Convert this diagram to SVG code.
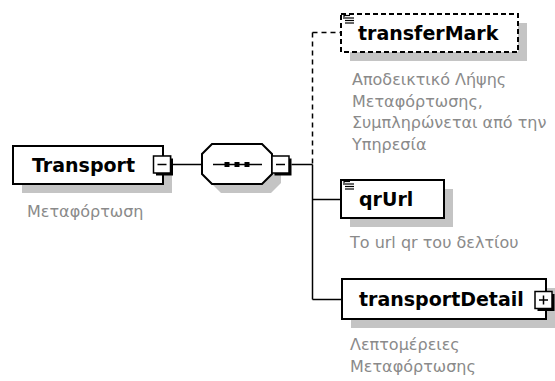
<svg xmlns="http://www.w3.org/2000/svg" width="555" height="381" viewBox="0 0 555 381">
<style>
.box{fill:#fff;stroke:#000;stroke-width:2}
.dbox{fill:#fff;stroke:#000;stroke-width:2;stroke-dasharray:5 3}
.shadow{fill:#c4c4c4}
.name{font-family:"DejaVu Sans",sans-serif;font-weight:bold;font-size:19px;fill:#000}
.desc{font-family:"DejaVu Sans",sans-serif;font-size:16px;fill:#8a8a8a}
.ln{stroke:#000;stroke-width:1.5;fill:none}
.dln{stroke:#000;stroke-width:1.5;fill:none;stroke-dasharray:5 4}
.btn{fill:#fff;stroke:#000;stroke-width:1.5}
.bsh{fill:#000}
.icon{stroke:#000;stroke-width:1.2}
</style>
<rect width="555" height="381" fill="#fff"/>
<g id="connectors">
<line class="ln" x1="173" y1="164.5" x2="202" y2="164.5"/>
<line class="ln" x1="291.5" y1="164.5" x2="312.5" y2="164.5"/>
<line class="dln" x1="312.5" y1="32.5" x2="312.5" y2="164.5"/>
<line class="ln" x1="312.5" y1="164.5" x2="312.5" y2="299.5"/>
<line class="dln" x1="312.5" y1="32.5" x2="341" y2="32.5"/>
<line class="ln" x1="312.5" y1="199.5" x2="341" y2="199.5"/>
<line class="ln" x1="312.5" y1="299.5" x2="342" y2="299.5"/>
</g>
<g id="Transport">
<rect class="shadow" x="22" y="155" width="150" height="38"/>
<rect class="box" x="13" y="146" width="150" height="38"/>
<text class="name" x="32" y="171.5">Transport</text>
<rect class="bsh" x="156" y="158.5" width="17" height="17"/>
<rect class="btn" x="153.5" y="156" width="17" height="17"/>
<line class="ln" x1="157.5" y1="164.5" x2="166.5" y2="164.5"/>
<text class="desc" x="27" y="217">Μεταφόρτωση</text>
</g>
<g id="sequence">
<polygon class="shadow" points="221,153 271,153 281,163 281,183 271,193 221,193 211,183 211,163"/>
<polygon class="box" points="212,144 262,144 272,154 272,174 262,184 212,184 202,174 202,154"/>
<line class="ln" x1="213" y1="164.5" x2="262" y2="164.5"/>
<rect x="224.5" y="162" width="5" height="5" fill="#000"/>
<rect x="234.5" y="162" width="5" height="5" fill="#000"/>
<rect x="244.5" y="162" width="5" height="5" fill="#000"/>
<rect class="bsh" x="274.5" y="158.5" width="17" height="17"/>
<rect class="btn" x="272" y="156" width="17" height="17"/>
<line class="ln" x1="276" y1="164.5" x2="285" y2="164.5"/>
</g>
<g id="transferMark">
<rect class="shadow" x="350" y="23" width="177" height="38"/>
<rect class="dbox" x="341" y="14" width="177" height="38"/>
<line class="icon" x1="344" y1="14" x2="344" y2="19"/>
<line class="icon" x1="344" y1="15.5" x2="350" y2="15.5"/>
<line class="icon" x1="345" y1="18" x2="354" y2="18"/>
<line class="icon" x1="345" y1="20.5" x2="354" y2="20.5"/>
<line class="icon" x1="345" y1="23" x2="354" y2="23"/>
<text class="name" x="358" y="39.5">transferMark</text>
<text class="desc" x="352" y="85">Αποδεικτικό Λήψης</text>
<text class="desc" x="352" y="106.5">Μεταφόρτωσης,</text>
<text class="desc" x="352" y="128">Συμπληρώνεται από την</text>
<text class="desc" x="352" y="149.5">Υπηρεσία</text>
</g>
<g id="qrUrl">
<rect class="shadow" x="350" y="189" width="103" height="38"/>
<rect class="box" x="341" y="180" width="103" height="38"/>
<line class="icon" x1="344" y1="180" x2="344" y2="185"/>
<line class="icon" x1="344" y1="181.5" x2="350" y2="181.5"/>
<line class="icon" x1="345" y1="184" x2="354" y2="184"/>
<line class="icon" x1="345" y1="186.5" x2="354" y2="186.5"/>
<line class="icon" x1="345" y1="189" x2="354" y2="189"/>
<text class="name" x="359" y="206">qrUrl</text>
<text class="desc" x="350" y="248">Το url qr του δελτίου</text>
</g>
<g id="transportDetail">
<rect class="shadow" x="351" y="288" width="204" height="40"/>
<rect class="box" x="342" y="279" width="204" height="40"/>
<text class="name" x="359" y="306">transportDetail</text>
<rect class="bsh" x="537.5" y="294" width="17" height="17"/>
<rect class="btn" x="535" y="291.5" width="17" height="17"/>
<line class="ln" x1="539" y1="300" x2="548" y2="300"/>
<line class="ln" x1="543.5" y1="295.5" x2="543.5" y2="304.5"/>
<text class="desc" x="350" y="350">Λεπτομέρειες</text>
<text class="desc" x="350" y="372">Μεταφόρτωσης</text>
</g>
</svg>
